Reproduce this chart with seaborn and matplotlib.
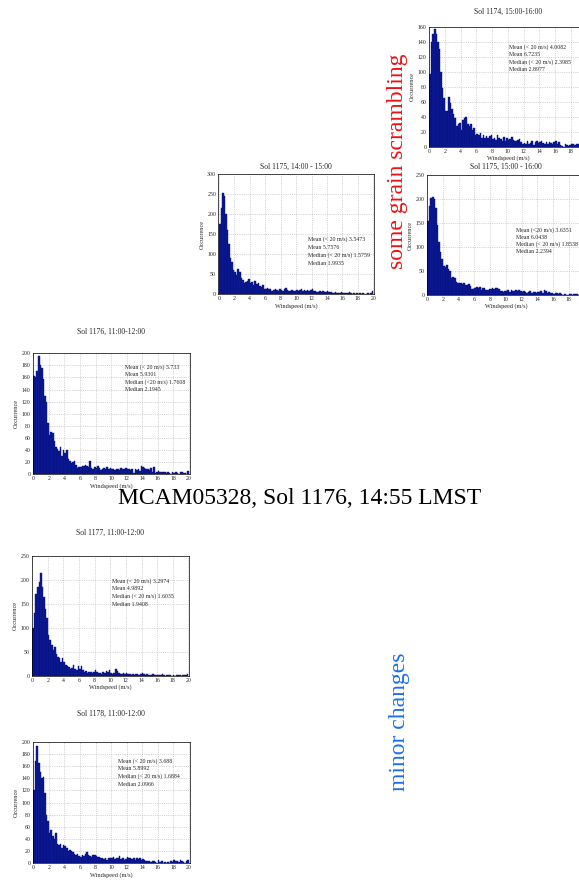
import numpy as np
import pandas as pd
import seaborn as sns
import matplotlib.pyplot as plt

# bin centres of the windspeed histograms (m/s), 0.2 m/s wide
centers = np.round(np.arange(0.1, 20, 0.2), 1)

# counts per 0.2 m/s bin
sol1174_15 = [97, 140, 150, 157, 150, 140, 130, 100, 78, 65,
              47, 47, 66, 58, 50, 43, 38, 27, 30, 31,
              22, 35, 38, 40, 30, 27, 30, 22, 25, 15,
              17, 15, 18, 12, 16, 11, 14, 12, 14, 15,
              10, 12, 9, 16, 12, 10, 8, 13, 7, 11,
              9, 10, 13, 9, 8, 7, 9, 10, 6, 4,
              5, 4, 7, 3, 5, 8, 2, 6, 7, 5,
              6, 7, 5, 4, 6, 4, 6, 5, 3, 6,
              7, 4, 6, 2, 1, 0, 3, 2, 1, 2,
              4, 3, 2, 4, 3, 2, 1, 3, 2, 3]
sol1175_15 = [155, 185, 203, 205, 200, 182, 145, 110, 90, 75,
              60, 58, 62, 55, 50, 35, 38, 35, 27, 25,
              25, 26, 22, 25, 20, 20, 22, 18, 12, 13,
              15, 17, 14, 17, 11, 15, 14, 10, 10, 12,
              12, 14, 12, 15, 14, 12, 9, 8, 7, 9,
              8, 10, 7, 10, 8, 9, 10, 8, 10, 9,
              7, 8, 6, 5, 6, 8, 5, 6, 7, 4,
              6, 7, 8, 5, 10, 9, 4, 6, 5, 4,
              3, 5, 4, 3, 4, 2, 1, 2, 0, 1,
              3, 2, 1, 2, 3, 2, 1, 3, 2, 3]
sol1175_14 = [175, 215, 253, 245, 200, 160, 125, 90, 80, 60,
              55, 48, 62, 55, 40, 35, 28, 30, 32, 38,
              27, 30, 24, 32, 25, 28, 20, 18, 22, 13,
              14, 15, 12, 14, 9, 11, 13, 10, 8, 12,
              11, 8, 12, 15, 10, 8, 7, 10, 9, 7,
              11, 9, 10, 12, 9, 11, 8, 10, 9, 11,
              13, 9, 8, 6, 5, 7, 6, 8, 5, 6,
              7, 5, 6, 3, 4, 5, 3, 4, 2, 6,
              3, 4, 2, 3, 5, 2, 1, 3, 1, 2,
              1, 2, 1, 2, 1, 1, 2, 1, 3, 8]
sol1176_11 = [162, 160, 170, 196, 180, 175, 158, 130, 120, 85,
              65, 70, 68, 55, 45, 42, 38, 45, 30, 40,
              35, 40, 25, 22, 18, 20, 22, 15, 10, 12,
              12, 14, 13, 15, 13, 12, 22, 10, 8, 12,
              10, 13, 10, 7, 9, 10, 8, 12, 9, 10,
              8, 9, 7, 8, 9, 7, 10, 8, 9, 10,
              8, 9, 7, 8, 2, 9, 7, 8, 6, 14,
              12, 10, 9, 8, 7, 10, 3, 12, 2, 3,
              5, 4, 3, 4, 3, 2, 3, 2, 1, 3,
              2, 3, 2, 1, 3, 4, 2, 2, 1, 6]
sol1177_11 = [100, 130, 170, 185, 195, 215, 185, 165, 140, 120,
              85, 75, 65, 55, 60, 45, 40, 38, 30, 38,
              30, 22, 20, 18, 15, 17, 22, 15, 12, 20,
              15, 20, 12, 8, 10, 7, 9, 8, 6, 9,
              12, 8, 6, 7, 5, 8, 6, 10, 8, 12,
              7, 5, 6, 14, 10, 6, 5, 4, 6, 5,
              6, 4, 5, 3, 4, 3, 5, 4, 2, 5,
              6, 4, 3, 4, 3, 2, 3, 4, 2, 3,
              2, 3, 2, 4, 3, 1, 2, 3, 2, 1,
              2, 1, 2, 3, 2, 1, 2, 3, 2, 4]
sol1178_11 = [120, 168, 193, 165, 150, 140, 142, 115, 80, 70,
              50, 55, 45, 40, 50, 32, 30, 32, 25, 30,
              28, 25, 20, 22, 20, 18, 15, 13, 16, 12,
              11, 14, 12, 15, 18, 14, 12, 10, 13, 14,
              12, 10, 11, 8, 9, 7, 8, 6, 8, 9,
              8, 10, 7, 9, 8, 12, 7, 9, 6, 7,
              10, 8, 9, 7, 8, 6, 9, 7, 8, 6,
              7, 5, 3, 4, 3, 2, 4, 3, 2, 1,
              5, 2, 3, 1, 2, 1, 2, 1, 3, 2,
              5, 3, 4, 2, 5, 3, 2, 1, 3, 5]

titles = ["Sol 1174, 15:00-16:00", "Sol 1175, 15:00 - 16:00",
          "Sol 1175, 14:00 - 15:00", "Sol 1176, 11:00-12:00",
          "Sol 1177, 11:00-12:00", "Sol 1178, 11:00-12:00"]
stats = [
    ["Mean (< 20 m/s) 4.0082", "Mean 6.7235", "Median (< 20 m/s) 2.3985", "Median 2.8977"],
    ["Mean (<20 m/s) 3.6351", "Mean 6.0438", "Median (< 20 m/s) 1.8538", "Median 2.2394"],
    ["Mean (< 20 m/s) 3.5473", "Mean 5.7576", "Median (< 20 m/s) 1.5759", "Median 1.9935"],
    ["Mean (< 20 m/s) 3.733", "Mean 5.9301", "Median (<20 m/s) 1.7608", "Median 2.1945"],
    ["Mean (< 20 m/s) 3.2974", "Mean 4.9892", "Median (< 20 m/s) 1.6035", "Median 1.9408"],
    ["Mean (< 20 m/s) 3.688", "Mean 5.8992", "Median (< 20 m/s) 1.6884", "Median 2.0966"],
]
counts = [sol1174_15, sol1175_15, sol1175_14, sol1176_11, sol1177_11, sol1178_11]
ymax = [160, 250, 300, 200, 250, 200]
ystep = [20, 50, 50, 20, 50, 20]
xmax_label = [18, 18, 20, 20, 20, 20]   # right two panels run off the page edge

# layout in pixels: axes left, top, width, height; title y; stats text x, y, line gap
W, H = 579, 880
boxes = [(428.5, 26.7, 158.8, 120.0), (426.5, 175.0, 158.7, 120.0),
         (218.2, 174.0, 155.8, 120.3), (32.5, 353.3, 157.3, 121.0),
         (31.5, 555.7, 157.6, 120.3), (32.5, 741.7, 157.3, 121.6)]
title_y = [12, 167, 166.5, 332, 533, 714]
text_pos = [(509, 47.3, 7.3), (515.7, 230, 7.3), (307.7, 239.3, 8.0),
            (125, 367.3, 7.3), (111.7, 581, 7.7), (118.3, 761, 7.7)]

sns.set_theme(style="white")
plt.rcParams['font.family'] = ['Liberation Serif', 'DejaVu Serif']

fig = plt.figure(figsize=(W / 100, H / 100), dpi=100)

for i in range(6):
    l, t, w, h = boxes[i]
    ax = fig.add_axes([l / W, 1 - (t + h) / H, w / W, h / H])
    df = pd.DataFrame({'speed': centers, 'count': np.array(counts[i], dtype=float)})
    sns.histplot(data=df, x='speed', weights='count', binwidth=0.2, binrange=(0, 20),
                 ax=ax, color='#0c1a96', edgecolor='#06107a', linewidth=0.3, alpha=1)
    ax.set_xlim(-0.1, 20.1)
    ax.set_ylim(0, ymax[i])
    ax.set_xticks(np.arange(0, xmax_label[i] + 1, 2))
    ax.set_yticks(np.arange(0, ymax[i] + 1, ystep[i]))
    ax.tick_params(labelsize=4.2, length=1.5, width=0.4, pad=1.5, direction='in')
    ax.grid(True, linestyle=':', color='#b0b0b0', linewidth=0.5)
    ax.set_axisbelow(True)
    for s in ax.spines.values():
        s.set_color('black')
        s.set_linewidth(0.5)
    ax.set_xlabel("Windspeed (m/s)", fontsize=4.5, labelpad=1)
    ax.set_ylabel("Occurrence", fontsize=4.5, labelpad=2)
    fig.text((l + w / 2) / W, 1 - title_y[i] / H, titles[i],
             ha='center', va='center', fontsize=5.5)
    tx, ty, gap = text_pos[i]
    for k, line in enumerate(stats[i]):
        fig.text(tx / W, 1 - (ty + k * gap) / H, line,
                 ha='left', va='center', fontsize=4.2)

fig.text(300 / W, 1 - 498 / H, "MCAM05328, Sol 1176, 14:55 LMST",
         ha='center', va='center', fontsize=17, color='black')
fig.text(397 / W, 1 - 161 / H, "some grain scrambling", rotation=90,
         ha='center', va='center', fontsize=17, color='#ee1111')
fig.text(399 / W, 1 - 722 / H, "minor changes", rotation=90,
         ha='center', va='center', fontsize=17, color='#1a6ef5')

fig.savefig('out.png', dpi=100)
